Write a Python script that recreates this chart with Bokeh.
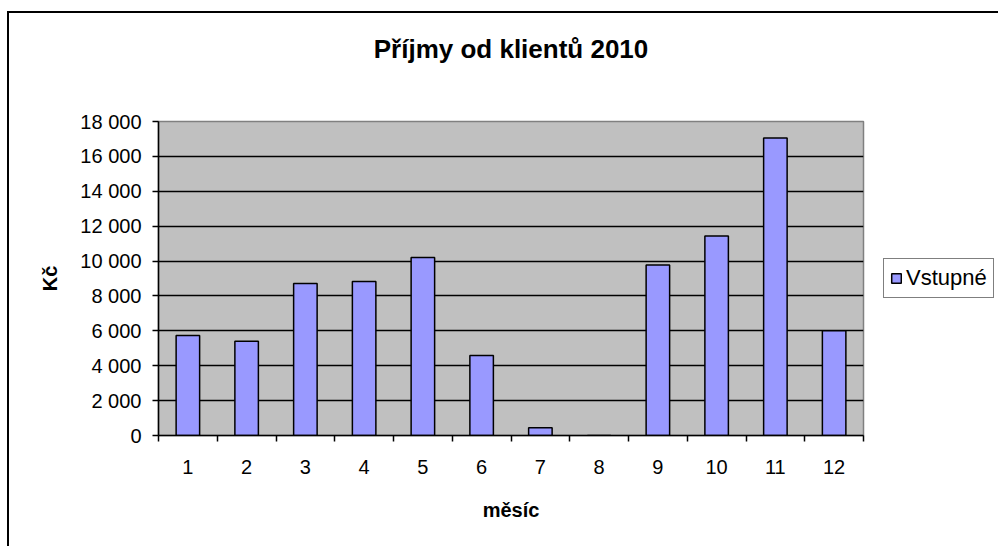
from bokeh.plotting import figure
from bokeh.models import (ColumnDataSource, Range1d, FixedTicker, Legend, LegendItem)
from bokeh.embed import file_html
from bokeh.resources import INLINE

# ---- data ----
title_text = "Příjmy od klientů 2010"
months = [1, 2, 3, 4, 5, 6, 7, 8, 9, 10, 11, 12]
month_labels = ["1", "2", "3", "4", "5", "6", "7", "8", "9", "10", "11", "12"]
vstupne = [5730, 5410, 8710, 8830, 10210, 4590, 440, 0, 9770, 11440, 17060, 6000]
y_ticks = [0, 2000, 4000, 6000, 8000, 10000, 12000, 14000, 16000, 18000]
y_tick_labels = ["0", "2 000", "4 000", "6 000", "8 000", "10 000",
                 "12 000", "14 000", "16 000", "18 000"]
series_name = "Vstupné"
x_title = "měsíc"
y_title = "Kč"

FONT = "Liberation Sans"
TXT = "black"

src = ColumnDataSource(data=dict(month=months, value=vstupne))

p = figure(frame_width=705, frame_height=314, output_backend="svg", toolbar_location=None,
           x_range=Range1d(months[0] - 0.5, months[-1] + 0.5),
           y_range=Range1d(y_ticks[0], y_ticks[-1]),
           min_border_left=158, min_border_right=134,
           min_border_top=121, min_border_bottom=111,
           title=title_text)

# chart-area border (left and top edges only; right/bottom lie off-page)
p.styles = {
    "background-image": "linear-gradient(#000,#000), linear-gradient(#000,#000)",
    "background-size": "2px 100%, 100% 2px",
    "background-position": "7px 11px, 7px 11px",
    "background-repeat": "no-repeat",
}

p.background_fill_color = "#C0C0C0"
p.border_fill_color = None
p.outline_line_color = "#808080"
p.outline_line_width = 1.5

p.title.text_font = FONT
p.title.text_font_size = "26px"
p.title.text_font_style = "bold"
p.title.text_color = TXT
p.title.align = "center"
p.title.vertical_align = "bottom"
p.title.standoff = 2
p.title.padding = (0, 0, 0, 57)

r = p.vbar(x="month", top="value", width=0.4, source=src,
           fill_color="#9999FF", line_color="black", line_width=1.5)

# grid
p.xgrid.visible = False
p.ygrid.ticker = FixedTicker(ticks=y_ticks[1:-1])
p.ygrid.grid_line_color = "black"
p.ygrid.grid_line_width = 1.5

# x axis: labels at centers, ticks at category boundaries
xa = p.xaxis[0]
xa.ticker = FixedTicker(ticks=months,
                        minor_ticks=[m - 0.5 for m in months] + [months[-1] + 0.5])
xa.major_label_overrides = {m: lab for m, lab in zip(months, month_labels)}
xa.major_tick_out = 0
xa.major_tick_in = 0
xa.minor_tick_out = 6
xa.minor_tick_in = 0
xa.minor_tick_line_color = "black"
xa.minor_tick_line_width = 1.5
xa.axis_line_color = "black"
xa.axis_line_width = 1.5
xa.major_label_text_font = FONT
xa.major_label_text_font_size = "20px"
xa.major_label_text_color = TXT
xa.major_label_standoff = 18
xa.axis_label = x_title
xa.axis_label_text_font = FONT
xa.axis_label_text_font_size = "20px"
xa.axis_label_text_font_style = "bold"
xa.axis_label_text_color = TXT
xa.axis_label_standoff = 22

ya = p.yaxis[0]
ya.ticker = FixedTicker(ticks=y_ticks, minor_ticks=[])
ya.major_label_overrides = {t: lab for t, lab in zip(y_ticks, y_tick_labels)}
ya.major_tick_out = 6
ya.major_tick_in = 0
ya.major_tick_line_color = "black"
ya.major_tick_line_width = 1.5
ya.axis_line_color = "black"
ya.axis_line_width = 1.5
ya.major_label_text_font = FONT
ya.major_label_text_font_size = "20px"
ya.major_label_text_color = TXT
ya.major_label_standoff = 11
ya.axis_label = y_title
ya.axis_label_text_font = FONT
ya.axis_label_text_font_size = "20px"
ya.axis_label_text_font_style = "bold"
ya.axis_label_text_color = TXT
ya.axis_label_standoff = 16

legend = Legend(items=[LegendItem(label=series_name, renderers=[r])],
                location="left")
legend.label_text_font = FONT
legend.label_text_font_size = "22px"
legend.label_text_color = TXT
legend.glyph_width = 12
legend.glyph_height = 12
legend.label_standoff = 4
legend.padding = 6
legend.margin = 20
legend.spacing = 0
legend.border_line_color = "black"
legend.border_line_width = 1.5
legend.background_fill_color = "white"
legend.background_fill_alpha = 1.0
p.add_layout(legend, "right")

open("out.html", "w").write(file_html(p, INLINE))
